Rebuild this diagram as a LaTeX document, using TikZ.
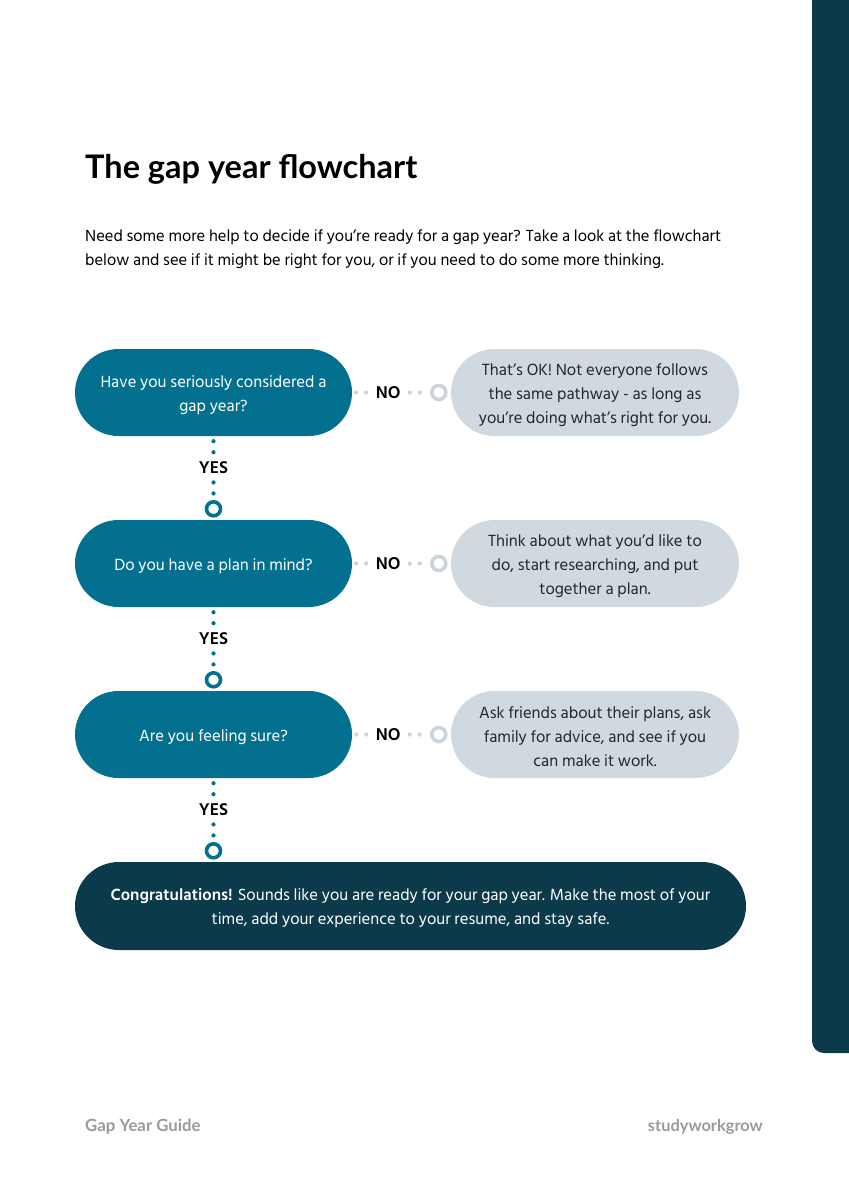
\documentclass[tikz,border=0pt]{standalone}
\usepackage{fontspec}
\setmainfont{Hind Siliguri}
\newfontfamily\titlefont{Lato}
\usetikzlibrary{calc}
\definecolor{cteal}{HTML}{04708F}
\definecolor{cgray}{HTML}{D0D9E0}
\definecolor{cdark}{HTML}{0B3A4A}
\definecolor{cring}{HTML}{CBD4DB}
\definecolor{cfoot}{HTML}{9A9A9A}
\tikzset{
  qbox/.style={fill=cteal, rounded corners=43.5pt, minimum width=277pt, minimum height=87pt, inner sep=0pt},
  abox/.style={fill=cgray, rounded corners=43.5pt, minimum width=288pt, minimum height=87pt, inner sep=0pt},
  endbox/.style={fill=cdark, rounded corners=44pt, minimum width=671pt, minimum height=88pt, inner sep=0pt},
  btxt/.style={align=center, font=\fontsize{16.6}{24}\selectfont, inner sep=0pt},
  wtxt/.style={btxt, text=white},
  dtxt/.style={btxt, text=black!85},
  lbl/.style={font=\bfseries\fontsize{17.5}{20}\selectfont, text=black, inner sep=0pt},
  tring/.style={circle, draw=cteal, line width=3.6pt, minimum size=14pt, inner sep=0pt},
  gring/.style={circle, draw=cring, line width=3.6pt, minimum size=14pt, inner sep=0pt},
  tdot/.style={fill=cteal},
  gdot/.style={fill=cring},
}
\begin{document}
\begin{tikzpicture}[x=1pt,y=-1pt]
\useasboundingbox (0,0) rectangle (849,1200);
\fill[white] (0,0) rectangle (849,1200);
% side bar
\fill[cdark, rounded corners=12pt] (812,-30) rectangle (880,1053);
% title and intro
\node[anchor=base west, inner sep=0pt, font=\titlefont\bfseries\fontsize{32.5}{40}\selectfont] (title) at (85,178) {The gap year flowchart};
\node[anchor=base west, inner sep=0pt, align=left, font=\fontsize{16.5}{24}\selectfont] (intro) at (85,265) {Need some more help to decide if you’re ready for a gap year? Take a look at the flowchart\\below and see if it might be right for you, or if you need to do some more thinking.};
% question boxes
\node[qbox] (q1) at (213.5,392.5) {};
\node[qbox] (q2) at (213.5,563.5) {};
\node[qbox] (q3) at (213.5,734.5) {};
\node[wtxt] (q1t) at ($(q1.center)+(0,2.5)$) {Have you seriously considered a\\gap year?};
\node[wtxt] (q2t) at ($(q2.center)+(0,2.5)$) {Do you have a plan in mind?};
\node[wtxt] (q3t) at ($(q3.center)+(0,2.5)$) {Are you feeling sure?};
% answer boxes
\node[abox] (a1) at (595,392.5) {};
\node[abox] (a2) at (595,563.5) {};
\node[abox] (a3) at (595,734.5) {};
\node[dtxt] (a1t) at ($(a1.center)+(0,2.5)$) {That’s OK! Not everyone follows\\the same pathway - as long as\\you’re doing what’s right for you.};
\node[dtxt] (a2t) at ($(a2.center)+(0,2.5)$) {Think about what you’d like to\\do, start researching, and put\\together a plan.};
\node[dtxt] (a3t) at ($(a3.center)+(0,2.5)$) {Ask friends about their plans, ask\\family for advice, and see if you\\can make it work.};
% final box
\node[endbox] (fin) at (410.5,906) {};
\node[wtxt] (fint) at ($(fin.center)+(0,2.5)$) {\textbf{Congratulations!} Sounds like you are ready for your gap year. Make the most of your\\time, add your experience to your resume, and stay safe.};
% NO connectors
\foreach \i in {1,2,3}{
  \node[lbl] (no\i) at ($(q\i.east)+(36,0)$) {NO};
  \node[gring] (gr\i) at ($(a\i.west)+(-12,0)$) {};
  \fill[gdot] ($(q\i.east)+(4,0)$) circle (2.1);
  \fill[gdot] ($(q\i.east)+(14,0)$) circle (2.1);
  \fill[gdot] ($(no\i.east)+(9,0)$) circle (2.1);
  \fill[gdot] ($(no\i.east)+(19,0)$) circle (2.1);
}
% YES connectors
\foreach \i/\j in {1/q2,2/q3,3/fin}{
  \node[lbl] (yes\i) at ($(q\i.south)+(0,31)$) {YES};
  \node[tring] (tr\i) at ($(q\i.south |- \j.north)+(0,-11)$) {};
  \fill[tdot] ($(q\i.south)+(0,5)$) circle (2.1);
  \fill[tdot] ($(q\i.south)+(0,16)$) circle (2.1);
  \fill[tdot] ($(yes\i.south)+(0,9)$) circle (2.1);
  \fill[tdot] ($(yes\i.south)+(0,20)$) circle (2.1);
}
% footer
\node[anchor=base west, inner sep=0pt, text=cfoot, font=\titlefont\bfseries\fontsize{16.8}{20}\selectfont] (foot1) at (85,1131) {Gap Year Guide};
\node[anchor=base east, inner sep=0pt, text=cfoot, font=\titlefont\bfseries\fontsize{16.4}{20}\selectfont] (foot2) at (763,1131) {studyworkgrow};
\end{tikzpicture}
\end{document}
